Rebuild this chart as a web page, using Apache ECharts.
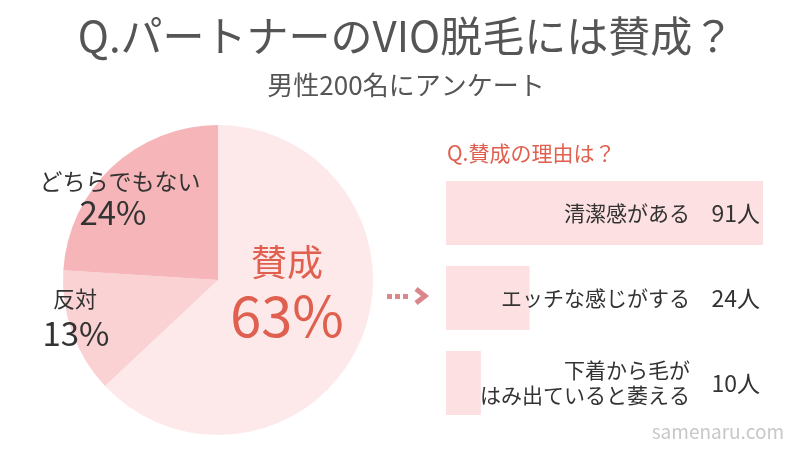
<!DOCTYPE html><html><head><meta charset="utf-8"><script src="https://cdn.jsdelivr.net/npm/echarts@6/dist/echarts.min.js"></script>
<style>body{margin:0}#c{width:812px;height:457px}</style></head><body><div id="c"></div><script>
const pieNames=['賛成','反対','どちらでもない'];
const pieValues=[63,13,24];
const reasons=['清潔感がある','エッチな感じがする','下着から毛が\nはみ出ていると萎える'];
const reasonValues=[91,24,10];
const F='"Noto Sans CJK JP"';
const c=echarts.init(document.getElementById('c'));
const barTop=181,barStep=85;
const g=[
 {type:'text',left:'center',top:15,style:{text:'Q.パートナーのVIO脱毛には賛成？',font:'42px '+F,fill:'#555'}},
 {type:'text',left:'center',top:72,style:{text:'男性200名にアンケート',font:'26px '+F,fill:'#555'}},
 {type:'text',left:447,top:143,style:{text:'Q.賛成の理由は？',font:'21px '+F,fill:'#e0604f'}},
 {type:'text',x:287,y:262,style:{text:'賛成',font:'36px '+F,fill:'#e0604f',align:'center',verticalAlign:'middle'}},
 {type:'text',x:287,y:316,style:{text:'63%',font:'56px '+F,fill:'#e0604f',align:'center',verticalAlign:'middle'}},
 {type:'text',x:120,y:181,style:{text:'どちらでもない',font:'23px '+F,fill:'#333',align:'center',verticalAlign:'middle'}},
 {type:'text',x:113,y:212,style:{text:'24%',font:'33px '+F,fill:'#333',align:'center',verticalAlign:'middle'}},
 {type:'text',x:75,y:299,style:{text:'反対',font:'22px '+F,fill:'#333',align:'center',verticalAlign:'middle'}},
 {type:'text',x:76,y:333,style:{text:'13%',font:'33px '+F,fill:'#333',align:'center',verticalAlign:'middle'}},
 {type:'text',right:28,top:422,style:{text:'samenaru.com',font:'19px '+F,fill:'#c8c8c8'}},
 {type:'polyline',shape:{points:[[416,289],[425,296],[416,303]]},style:{stroke:'#d9878b',lineWidth:5,fill:null}}
];
[387,395,403].forEach(x=>g.push({type:'rect',shape:{x:x,y:294,width:5,height:5},style:{fill:'#d9878b'}}));
reasons.forEach((r,i)=>{
 const cy=barTop+32+i*barStep;
 g.push({type:'text',x:690,y:cy,style:{text:r,font:'21px '+F,fill:'#333',align:'right',verticalAlign:'middle',lineHeight:25}});
 g.push({type:'text',x:760,y:cy,style:{text:reasonValues[i]+'人',font:'23px '+F,fill:'#333',align:'right',verticalAlign:'middle'}});
});
g.forEach(e=>e.z=100);
c.setOption({
 animation:false,
 grid:{left:446,right:49,top:170.5,height:255},
 xAxis:{type:'value',min:0,max:91,show:false},
 yAxis:{type:'category',data:reasons,inverse:true,show:false},
 series:[
  {type:'pie',center:[218,280],radius:155,startAngle:90,clockwise:true,label:{show:false},silent:true,
   data:pieNames.map((n,i)=>({name:n,value:pieValues[i],itemStyle:{color:['#fde8ea','#fad2d4','#f6b6b9'][i]}}))},
  {type:'bar',data:reasonValues,barWidth:64,itemStyle:{color:'#fde0e2'},silent:true}
 ],
 graphic:g
});
</script></body></html>
